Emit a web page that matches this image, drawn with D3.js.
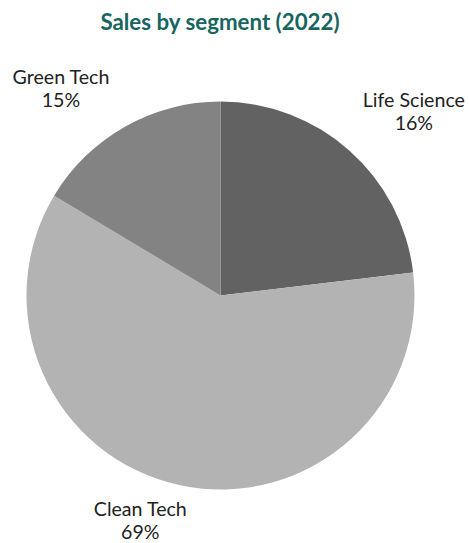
<!DOCTYPE html>
<html><head><meta charset="utf-8">
<script src="https://cdn.jsdelivr.net/npm/d3@7"></script>
<style>body{margin:0;background:#fff}svg{display:block}</style>
</head><body>
<svg id="chart" width="469" height="543"></svg>
<script>
const categories = ["Life Science", "Clean Tech", "Green Tech"];
const sliceValues = [23.1, 60.5, 16.4];        // slice sizes as drawn
const labelTexts = ["16%", "69%", "15%"];       // printed data labels
const colors = ["#626262", "#b3b3b3", "#838383"];
const title = "Sales by segment (2022)";

const svg = d3.select("#chart");
const cx = 220.5, cy = 295.5, R = 194;
const font = "Lato, 'Open Sans', sans-serif";

svg.append("text").attr("x", 220).attr("y", 29.5).attr("text-anchor", "middle")
  .attr("font-family", font).attr("font-weight", 700).attr("font-size", 22.3)
  .attr("fill", "#17655f").text(title);

const data = categories.map((c, i) => ({cat: c, value: sliceValues[i], label: labelTexts[i], color: colors[i]}));
const pie = d3.pie().value(d => d.value).sort(null);
const arc = d3.arc().innerRadius(0).outerRadius(R);
const arcs = pie(data);

const g = svg.append("g").attr("transform", `translate(${cx},${cy})`);
g.selectAll("path").data(arcs).enter().append("path")
  .attr("d", arc).attr("fill", d => d.data.color);

// label placement (polar: angle offset from slice mid-angle in degrees, radius)
const labelPolar = [[4.16, 270], [7.9, 235], [-7.5, 265]];
arcs.forEach((a, i) => {
  const mid = (a.startAngle + a.endAngle) / 2 + labelPolar[i][0] * Math.PI / 180;
  const r = labelPolar[i][1];
  const x = r * Math.sin(mid), y = -r * Math.cos(mid);
  const t = g.append("text").attr("text-anchor", "middle")
    .attr("font-family", font).attr("font-size", 19.6).attr("fill", "#222");
  t.append("tspan").attr("x", x).attr("y", y).text(a.data.cat);
  t.append("tspan").attr("x", x).attr("y", y + 23).text(a.data.label);
});
</script>
</body></html>
